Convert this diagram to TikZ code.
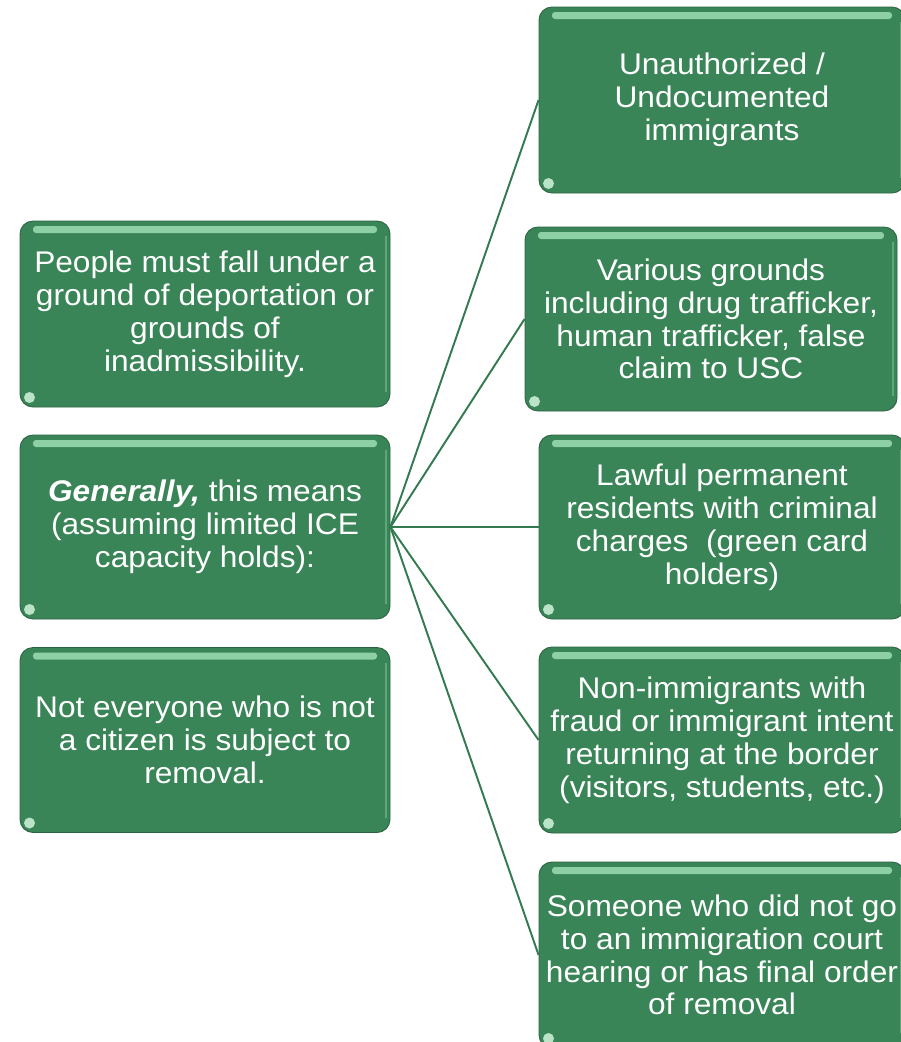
\documentclass[tikz,border=0pt]{standalone}
\usepackage{fontspec}
\setmainfont{Liberation Sans}[FakeStretch=1.06]
\usepackage{xcolor}
\usepackage{tikz}
\usetikzlibrary{calc}

\definecolor{boxgreen}{RGB}{57,133,87}
\definecolor{boxlight}{RGB}{140,208,164}
\definecolor{linegreen}{RGB}{52,122,80}

\begin{document}
\begin{tikzpicture}[>=stealth,
  box/.style={draw=boxgreen!75!black, line width=0.5pt, fill=boxgreen, rounded corners=0.26cm,
    text=white, align=center, inner sep=0pt,
    font=\fontsize{17}{18.7}\selectfont,
    path picture={
      \fill[boxlight, rounded corners=0.06cm]
        ($(path picture bounding box.north west)+(0.26,-0.1)$) rectangle
        ($(path picture bounding box.north east)+(-0.26,-0.24)$);
      \fill[boxlight!60!white]
        ($(path picture bounding box.south west)+(0.19,0.19)$) circle(0.11);
      \fill[boxlight!45!boxgreen, sharp corners]
        ($(path picture bounding box.north east)+(-0.11,-0.3)$) rectangle
        ($(path picture bounding box.south east)+(-0.06,0.3)$);
    }},
  link/.style={draw=linegreen, line width=1.1pt}]

% Frame
\useasboundingbox (0,0) rectangle (18.02,-20.84);
\clip (0,0) rectangle (18.02,-20.84);

% Left boxes
\node[box, minimum width=7.4cm, minimum height=3.72cm] (people) at (4.1,-6.28)
  {People must fall under a\\ ground of deportation or\\ grounds of\\ inadmissibility.};
\node[box, minimum width=7.4cm, minimum height=3.68cm] (gen) at (4.1,-10.54)
  {\textbf{\textit{Generally,}} this means\\ (assuming limited ICE\\ capacity holds):};
\node[box, minimum width=7.4cm, minimum height=3.7cm] (notall) at (4.1,-14.8)
  {Not everyone who is not\\ a citizen is subject to\\ removal.};

% Right boxes
\node[box, minimum width=7.32cm, minimum height=3.72cm] (una) at (14.44,-2.0)
  {Unauthorized /\\ Undocumented\\ immigrants};
\node[box, minimum width=7.44cm, minimum height=3.68cm] (various) at (14.22,-6.38)
  {Various grounds\\ including drug trafficker,\\ human trafficker, false\\ claim to USC};
\node[box, minimum width=7.32cm, minimum height=3.68cm] (lawful) at (14.44,-10.54)
  {Lawful permanent\\ residents with criminal\\ charges~ (green card\\ holders)};
\node[box, minimum width=7.32cm, minimum height=3.72cm] (nonimm) at (14.44,-14.8)
  {Non-immigrants with\\ fraud or immigrant intent\\ returning at the border\\ (visitors, students, etc.)};
\node[box, minimum width=7.32cm, minimum height=3.72cm] (someone) at (14.44,-19.1)
  {Someone who did not go\\ to an immigration court\\ hearing or has final order\\ of removal};

% Connectors
\draw[link] (gen.east) -- (una.west);
\draw[link] (gen.east) -- (various.west);
\draw[link] (gen.east) -- (lawful.west);
\draw[link] (gen.east) -- (nonimm.west);
\draw[link] (gen.east) -- (someone.west);

\end{tikzpicture}
\end{document}
